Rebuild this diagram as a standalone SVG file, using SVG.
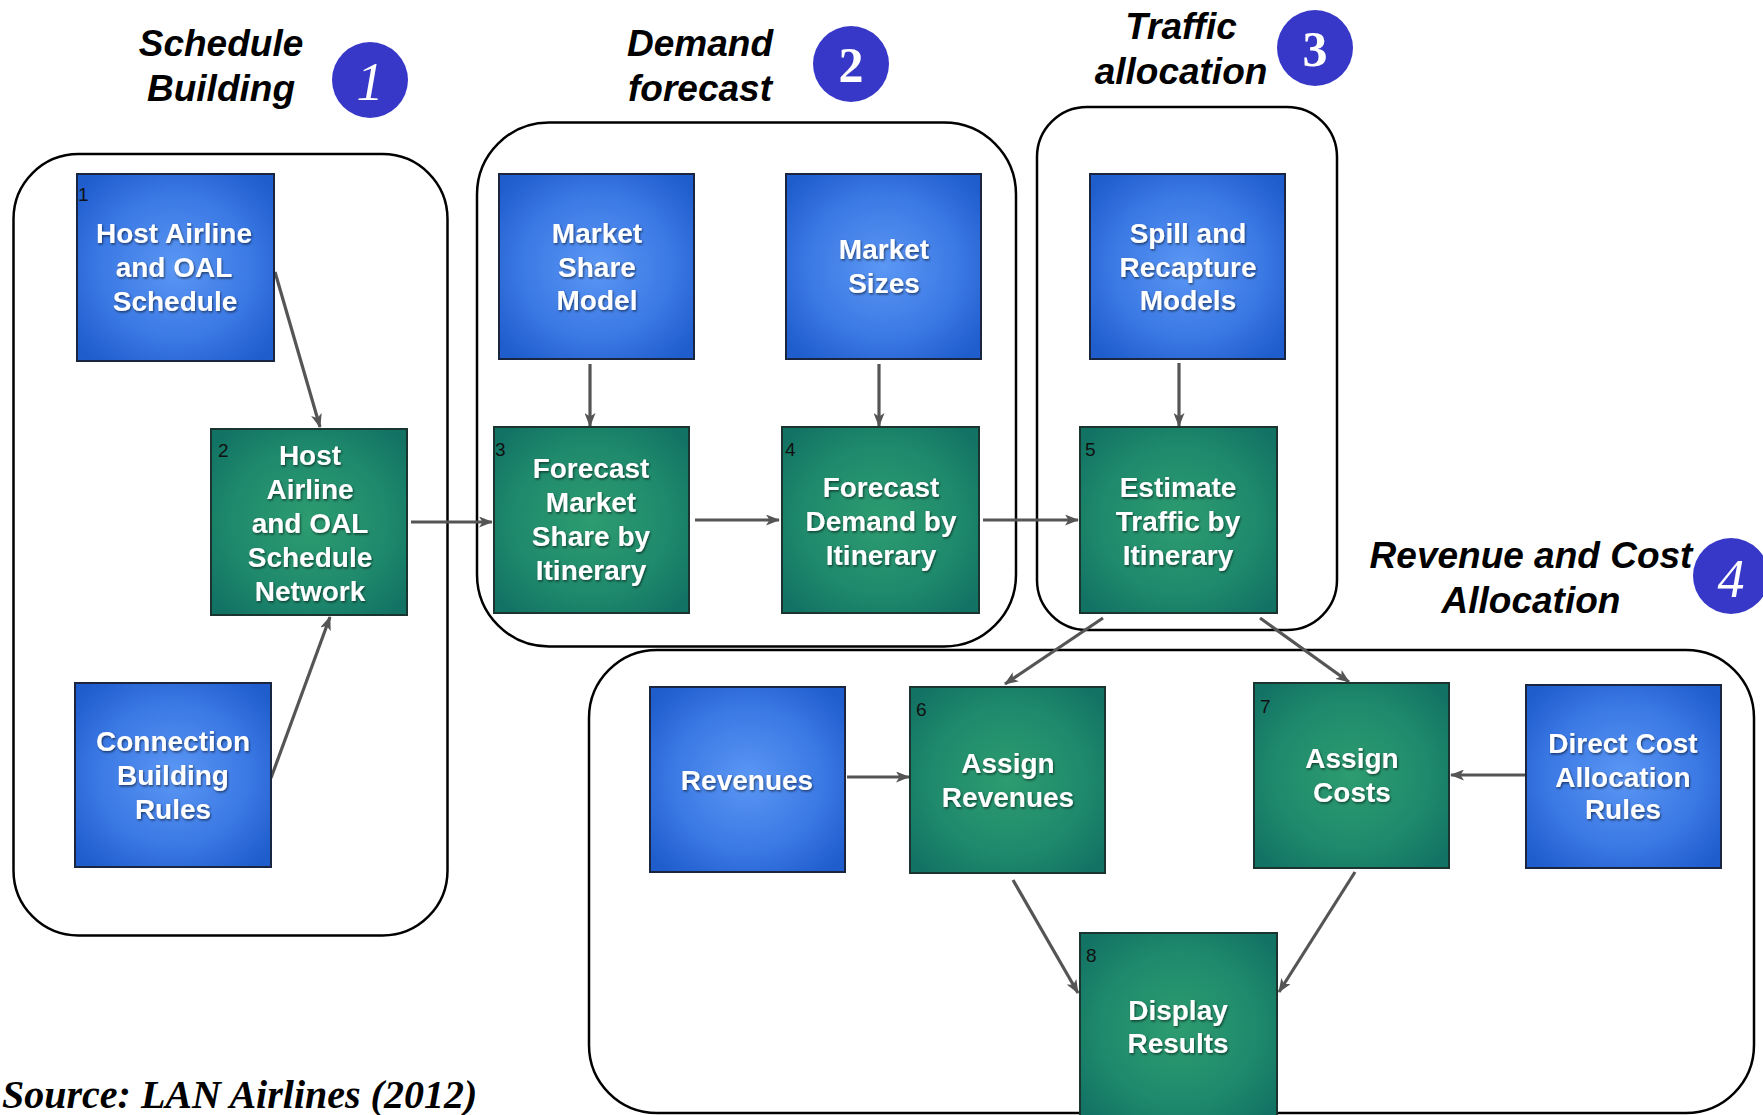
<svg xmlns="http://www.w3.org/2000/svg" width="1763" height="1115" viewBox="0 0 1763 1115">
<defs>
<radialGradient id="gBlue" cx="50%" cy="50%" r="65%">
<stop offset="0" stop-color="#5b97f4"/>
<stop offset="0.6" stop-color="#3a78e4"/>
<stop offset="1" stop-color="#1f5ccc"/>
</radialGradient>
<radialGradient id="gGreen" cx="50%" cy="50%" r="65%">
<stop offset="0" stop-color="#2d9c70"/>
<stop offset="0.6" stop-color="#1f8a6c"/>
<stop offset="1" stop-color="#127264"/>
</radialGradient>
<filter id="sh" x="-10%" y="-10%" width="120%" height="130%">
<feDropShadow dx="1" dy="1.5" stdDeviation="0.8" flood-color="#000" flood-opacity="0.55"/>
</filter>
<marker id="arr" viewBox="0 0 14 11" refX="13" refY="5.5" markerWidth="14" markerHeight="11" markerUnits="userSpaceOnUse" orient="auto">
<path d="M0,0 L14,5.5 L0,11 L3.5,5.5 z" fill="#555"/>
</marker>
</defs>
<style>
.grp{fill:none;stroke:#000;stroke-width:2.5}
.blue{fill:url(#gBlue);stroke:#1a2540;stroke-width:2}
.green{fill:url(#gGreen);stroke:#1a3530;stroke-width:2}
.nt{font-family:"Liberation Sans",Arial,sans-serif;font-weight:bold;font-size:28px;fill:#fff;text-anchor:middle;filter:url(#sh)}
.num{font-family:"Liberation Sans",Arial,sans-serif;font-size:19px;fill:#111}
.title{font-family:"Liberation Sans",Arial,sans-serif;font-weight:bold;font-style:italic;font-size:37px;fill:#000;text-anchor:middle}
.circ{fill:#3838c8}
.dig{font-family:"Liberation Serif","Times New Roman",serif;fill:#fff;text-anchor:middle}
.con{fill:none;stroke:#555;stroke-width:3.2;marker-end:url(#arr)}
.src{font-family:"Liberation Serif","Times New Roman",serif;font-weight:bold;font-style:italic;font-size:40px;fill:#000}
</style>
<rect width="1763" height="1115" fill="#fff"/>

<g id="sections">
<rect class="grp" x="13.5" y="154" width="434" height="781.5" rx="65"/>
<rect class="grp" x="477" y="122.5" width="539" height="524" rx="72"/>
<rect class="grp" x="1037" y="107" width="300" height="523" rx="50"/>
<rect class="grp" x="589" y="650" width="1165" height="463" rx="68"/>
</g>

<g id="titles">
<g id="title1">
<text class="title" x="221" y="56">Schedule</text>
<text class="title" x="221" y="101">Building</text>
<circle class="circ" cx="370" cy="80" r="38"/>
<text class="dig" x="370" y="100" font-size="54" font-style="italic">1</text>
</g>
<g id="title2">
<text class="title" x="700" y="56">Demand</text>
<text class="title" x="700" y="101">forecast</text>
<circle class="circ" cx="851" cy="64" r="38"/>
<text class="dig" x="851" y="82" font-size="50" font-weight="bold">2</text>
</g>
<g id="title3">
<text class="title" x="1181" y="39">Traffic</text>
<text class="title" x="1181" y="84">allocation</text>
<circle class="circ" cx="1315" cy="48" r="38"/>
<text class="dig" x="1315" y="66" font-size="50" font-weight="bold">3</text>
</g>
<g id="title4">
<text class="title" x="1531" y="568">Revenue and Cost</text>
<text class="title" x="1531" y="613">Allocation</text>
<circle class="circ" cx="1731" cy="576" r="38"/>
<text class="dig" x="1731" y="597" font-size="54" font-style="italic">4</text>
</g>
</g>

<g id="connectors">
<line class="con" x1="275" y1="272" x2="320" y2="427"/>
<line class="con" x1="271" y1="778" x2="330" y2="617"/>
<line class="con" x1="411" y1="522" x2="492" y2="522"/>
<line class="con" x1="590" y1="364" x2="590" y2="426"/>
<line class="con" x1="879" y1="364" x2="879" y2="426"/>
<line class="con" x1="695" y1="520" x2="779" y2="520"/>
<line class="con" x1="983" y1="520" x2="1078" y2="520"/>
<line class="con" x1="1179" y1="363" x2="1179" y2="426"/>
<line class="con" x1="1103" y1="618" x2="1005" y2="684"/>
<line class="con" x1="1260" y1="618" x2="1349" y2="682"/>
<line class="con" x1="847" y1="777" x2="909" y2="777"/>
<line class="con" x1="1525" y1="775" x2="1451" y2="775"/>
<line class="con" x1="1013" y1="880" x2="1078" y2="993"/>
<line class="con" x1="1355" y1="872" x2="1279" y2="992"/>
</g>

<g id="n_host_schedule">
<rect class="blue" x="77" y="174" width="197" height="187"/>
<text class="num" x="78" y="201">1</text>
<text class="nt" x="174" y="243">Host Airline</text>
<text class="nt" x="174" y="277">and OAL</text>
<text class="nt" x="175" y="311">Schedule</text>
</g>
<g id="n_connection_rules">
<rect class="blue" x="75" y="683" width="196" height="184"/>
<text class="nt" x="173" y="751">Connection</text>
<text class="nt" x="173" y="785">Building</text>
<text class="nt" x="173" y="819">Rules</text>
</g>
<g id="n_host_network">
<rect class="green" x="211" y="429" width="196" height="186"/>
<text class="num" x="218" y="457">2</text>
<text class="nt" x="310" y="465">Host</text>
<text class="nt" x="310" y="499">Airline</text>
<text class="nt" x="310" y="533">and OAL</text>
<text class="nt" x="310" y="567">Schedule</text>
<text class="nt" x="310" y="601">Network</text>
</g>
<g id="n_market_share_model">
<rect class="blue" x="499" y="174" width="195" height="185"/>
<text class="nt" x="597" y="243">Market</text>
<text class="nt" x="597" y="277">Share</text>
<text class="nt" x="597" y="310">Model</text>
</g>
<g id="n_market_sizes">
<rect class="blue" x="786" y="174" width="195" height="185"/>
<text class="nt" x="884" y="259">Market</text>
<text class="nt" x="884" y="293">Sizes</text>
</g>
<g id="n_forecast_share">
<rect class="green" x="494" y="427" width="195" height="186"/>
<text class="num" x="495" y="456">3</text>
<text class="nt" x="591" y="478">Forecast</text>
<text class="nt" x="591" y="512">Market</text>
<text class="nt" x="591" y="546">Share by</text>
<text class="nt" x="591" y="580">Itinerary</text>
</g>
<g id="n_forecast_demand">
<rect class="green" x="782" y="427" width="197" height="186"/>
<text class="num" x="785" y="456">4</text>
<text class="nt" x="881" y="497">Forecast</text>
<text class="nt" x="881" y="531">Demand by</text>
<text class="nt" x="881" y="565">Itinerary</text>
</g>
<g id="n_spill_recapture">
<rect class="blue" x="1090" y="174" width="195" height="185"/>
<text class="nt" x="1188" y="243">Spill and</text>
<text class="nt" x="1188" y="277">Recapture</text>
<text class="nt" x="1188" y="310">Models</text>
</g>
<g id="n_estimate_traffic">
<rect class="green" x="1080" y="427" width="197" height="186"/>
<text class="num" x="1085" y="456">5</text>
<text class="nt" x="1178" y="497">Estimate</text>
<text class="nt" x="1178" y="531">Traffic by</text>
<text class="nt" x="1178" y="565">Itinerary</text>
</g>
<g id="n_revenues">
<rect class="blue" x="650" y="687" width="195" height="185"/>
<text class="nt" x="747" y="790">Revenues</text>
</g>
<g id="n_assign_revenues">
<rect class="green" x="910" y="687" width="195" height="186"/>
<text class="num" x="916" y="716">6</text>
<text class="nt" x="1008" y="773">Assign</text>
<text class="nt" x="1008" y="807">Revenues</text>
</g>
<g id="n_assign_costs">
<rect class="green" x="1254" y="683" width="195" height="185"/>
<text class="num" x="1260" y="713">7</text>
<text class="nt" x="1352" y="768">Assign</text>
<text class="nt" x="1352" y="802">Costs</text>
</g>
<g id="n_direct_cost">
<rect class="blue" x="1526" y="685" width="195" height="183"/>
<text class="nt" x="1623" y="753">Direct Cost</text>
<text class="nt" x="1623" y="787">Allocation</text>
<text class="nt" x="1623" y="819">Rules</text>
</g>
<g id="n_display_results">
<rect class="green" x="1080" y="933" width="197" height="190"/>
<text class="num" x="1086" y="962">8</text>
<text class="nt" x="1178" y="1020">Display</text>
<text class="nt" x="1178" y="1053">Results</text>
</g>

<text class="src" x="2" y="1108">Source: LAN Airlines (2012)</text>
</svg>
